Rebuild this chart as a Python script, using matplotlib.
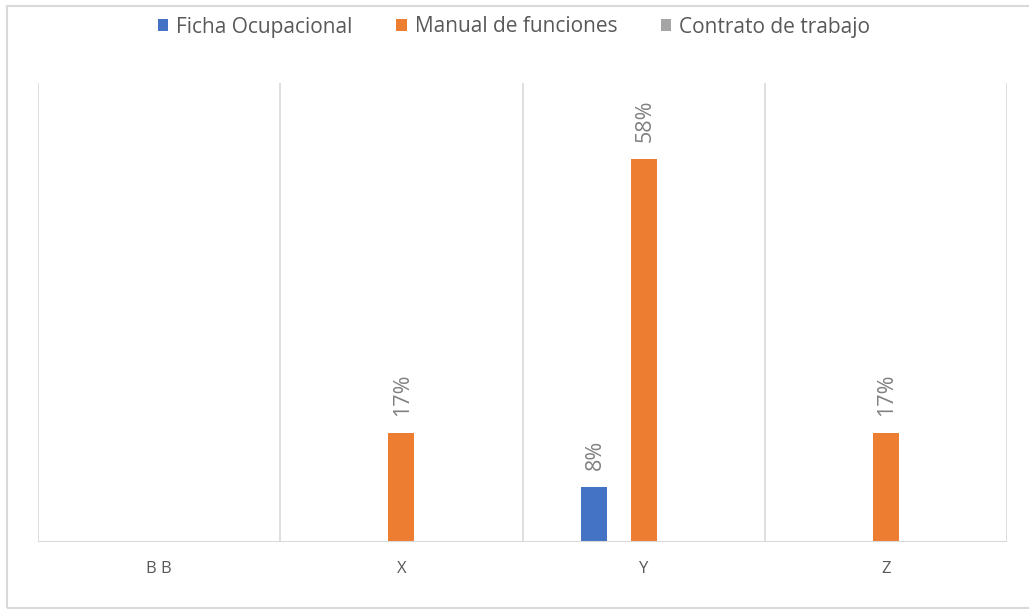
import matplotlib
matplotlib.use("Agg")
import matplotlib.pyplot as plt
from matplotlib.patches import Rectangle
import numpy as np

plt.rcParams['font.family'] = ['Open Sans', 'DejaVu Sans']

categories = ["B B", "X", "Y", "Z"]
series_names = ["Ficha Ocupacional", "Manual de funciones", "Contrato de trabajo"]
ficha = [0.0, 0.0, 1 / 12, 0.0]
manual = [0.0, 2 / 12, 7 / 12, 2 / 12]
contrato = [0.0, 0.0, 0.0, 0.0]
colors = ["#4472C4", "#ED7D31", "#A5A5A5"]

fig = plt.figure(figsize=(10.29, 6.09), dpi=100)
fig.patches.append(Rectangle((7 / 1029, 1 / 609), 1.2, 602 / 609, transform=fig.transFigure,
                             fill=False, edgecolor="#D9D9D9", linewidth=1.5, zorder=0))
ax = fig.add_axes([38 / 1029, (609 - 542) / 609, (1007 - 38) / 1029, (542 - 83) / 609])

x = np.arange(len(categories))
width = 0.107
offset = 0.203
for i, (vals, name, col) in enumerate(zip([ficha, manual, contrato], series_names, colors)):
    pos = x + (i - 1) * offset
    bars = ax.bar(pos, vals, width, color=col, label=name, zorder=3)
    for b, v in zip(bars, vals):
        if v > 0:
            ax.annotate(f"{v * 100:.0f}%", (b.get_x() + b.get_width() / 2, v),
                        xytext=(1, 17), textcoords="offset pixels",
                        rotation=90, ha="center", va="bottom", color="#808080", fontsize=15.5)

ax.set_xlim(-0.5, len(categories) - 0.5)
ax.set_ylim(0, 0.70)
for b in np.arange(-0.5, len(categories), 1.0):
    ax.axvline(b, color="#D9D9D9", linewidth=1.2, zorder=1)
ax.axhline(0, color="#D9D9D9", linewidth=1.5, zorder=4)

ax.set_xticks(x)
ax.set_xticklabels(categories, color="#595959", fontsize=12)
ax.tick_params(axis="x", length=0, pad=14)
ax.set_yticks([])
for s in ax.spines.values():
    s.set_visible(False)

handles, labels = ax.get_legend_handles_labels()
fig.legend(handles, labels, loc="center", bbox_to_anchor=(514 / 1029, 1 - 27 / 609), ncol=3,
           frameon=False, fontsize=15, labelcolor="#595959", handlelength=0.5, handleheight=0.5,
           handletextpad=0.38, columnspacing=2.1)

fig.savefig("out.png", dpi=100)
